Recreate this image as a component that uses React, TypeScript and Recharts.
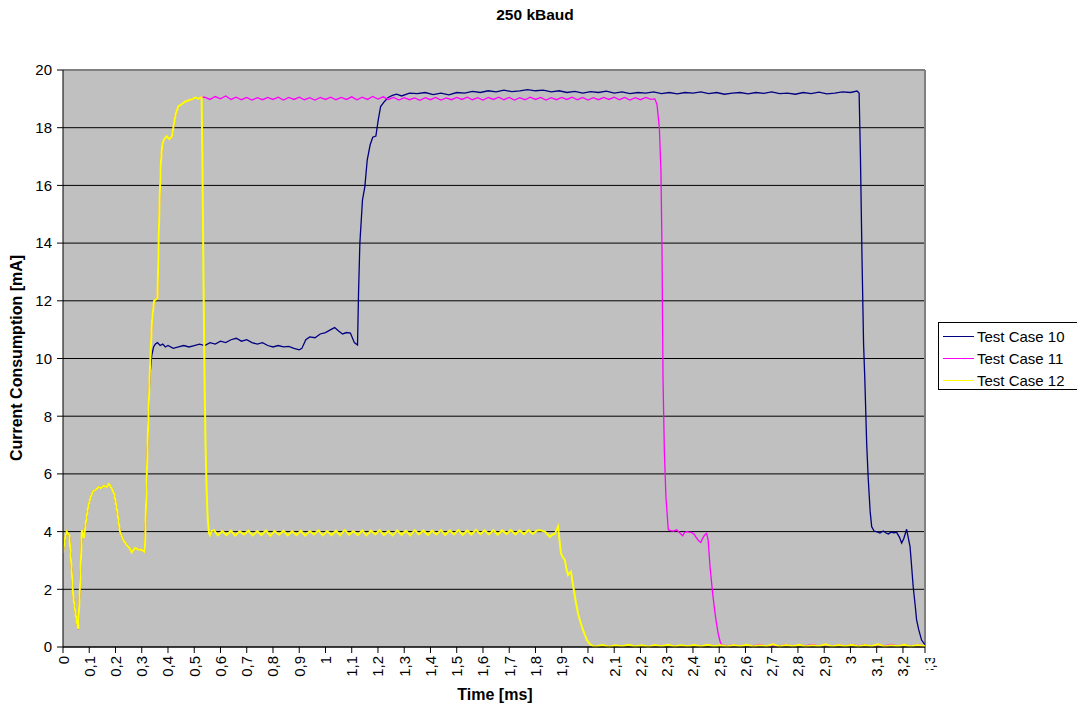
import React from 'react';
import { LineChart, Line, XAxis, YAxis, CartesianGrid, ReferenceLine } from 'recharts';

// Shared start of all three traces (time in ms, current in mA)
const startPoints: [number, number][] = [
  [0, 3.26], [0.008, 3.8], [0.014, 4.0], [0.024, 3.88], [0.032, 2.8], [0.039, 1.74], [0.046, 1.28],
  [0.052, 0.9], [0.058, 0.62], [0.062, 1.5], [0.066, 2.4], [0.072, 4.05], [0.08, 3.78], [0.088, 4.4],
  [0.096, 4.86], [0.105, 5.2], [0.115, 5.4], [0.125, 5.45], [0.135, 5.55], [0.145, 5.5], [0.155, 5.6],
  [0.165, 5.55], [0.175, 5.65], [0.185, 5.5], [0.195, 5.3], [0.205, 4.8], [0.217, 4.0], [0.23, 3.7],
  [0.243, 3.53], [0.255, 3.4], [0.262, 3.28], [0.274, 3.43], [0.287, 3.38], [0.3, 3.36], [0.309, 3.3],
  [0.312, 3.4], [0.318, 5.5], [0.324, 7.6],
];

// Shared steep rise of Test Case 11 and 12
const risePoints: [number, number][] = [
  [0.331, 9.6], [0.339, 11.3], [0.347, 12.0], [0.355, 12.05], [0.36, 12.1], [0.363, 13.5], [0.368, 15.5],
  [0.373, 16.8], [0.378, 17.4], [0.385, 17.6], [0.395, 17.7], [0.405, 17.6], [0.415, 17.7], [0.422, 18.1],
  [0.43, 18.5], [0.44, 18.75], [0.45, 18.8], [0.465, 18.9], [0.48, 18.95], [0.495, 19.0], [0.505, 19.05],
  [0.515, 19.0], [0.525, 19.05],
];

const tc10Points: [number, number][] = [
  [0.331, 9.4], [0.338, 10.1], [0.345, 10.4], [0.352, 10.5], [0.36, 10.55], [0.37, 10.45], [0.38, 10.5],
  [0.39, 10.4], [0.4, 10.45], [0.42, 10.35], [0.44, 10.4], [0.46, 10.45], [0.48, 10.4], [0.5, 10.45],
  [0.52, 10.5], [0.54, 10.45], [0.56, 10.55], [0.58, 10.5], [0.6, 10.6], [0.62, 10.55], [0.64, 10.65],
  [0.66, 10.7], [0.68, 10.6], [0.7, 10.65], [0.72, 10.55], [0.74, 10.5], [0.76, 10.55], [0.78, 10.45],
  [0.8, 10.4], [0.82, 10.45], [0.84, 10.4], [0.86, 10.42], [0.88, 10.35], [0.9, 10.3], [0.91, 10.35],
  [0.925, 10.65], [0.94, 10.75], [0.96, 10.72], [0.98, 10.85], [1.0, 10.9], [1.02, 11.0], [1.035, 11.07],
  [1.05, 10.95], [1.065, 10.85], [1.08, 10.9], [1.095, 10.88], [1.11, 10.55], [1.122, 10.47],
  [1.126, 12.3], [1.131, 14.0], [1.141, 15.5], [1.15, 15.96], [1.159, 16.88], [1.17, 17.4], [1.18, 17.67],
  [1.192, 17.71], [1.201, 18.27], [1.21, 18.73], [1.224, 18.9], [1.239, 19.05], [1.255, 19.12], [1.271, 19.16],
  [1.29, 19.1], [1.32, 19.2], [1.35, 19.18], [1.38, 19.22], [1.41, 19.15], [1.44, 19.2], [1.47, 19.14],
  [1.5, 19.22], [1.53, 19.2], [1.56, 19.26], [1.59, 19.22], [1.62, 19.28], [1.65, 19.24], [1.68, 19.3],
  [1.71, 19.25], [1.74, 19.28], [1.77, 19.32], [1.8, 19.28], [1.83, 19.3], [1.86, 19.24], [1.89, 19.28],
  [1.92, 19.22], [1.95, 19.26], [1.98, 19.2], [2.01, 19.25], [2.04, 19.22], [2.07, 19.27], [2.1, 19.2],
  [2.13, 19.24], [2.16, 19.18], [2.19, 19.22], [2.22, 19.2], [2.25, 19.24], [2.28, 19.18], [2.31, 19.22],
  [2.34, 19.17], [2.37, 19.22], [2.4, 19.2], [2.43, 19.24], [2.46, 19.18], [2.49, 19.22], [2.52, 19.16],
  [2.55, 19.2], [2.58, 19.22], [2.61, 19.17], [2.64, 19.22], [2.67, 19.19], [2.7, 19.24], [2.73, 19.18],
  [2.76, 19.2], [2.79, 19.16], [2.82, 19.22], [2.85, 19.18], [2.88, 19.23], [2.91, 19.17], [2.94, 19.2],
  [2.97, 19.24], [3.0, 19.22], [3.025, 19.27], [3.033, 19.2], [3.038, 17.0], [3.044, 13.5], [3.05, 10.5],
  [3.055, 9.2], [3.062, 7.0], [3.068, 5.8], [3.075, 4.7], [3.081, 4.17], [3.09, 4.02], [3.104, 3.98],
  [3.112, 3.95], [3.125, 4.02], [3.134, 3.96], [3.144, 3.92], [3.155, 3.98], [3.165, 3.96], [3.176, 3.97],
  [3.187, 3.8], [3.195, 3.6], [3.203, 3.75], [3.214, 4.08], [3.22, 3.8], [3.227, 3.48], [3.233, 2.8],
  [3.239, 2.09], [3.246, 1.5], [3.252, 0.94], [3.26, 0.6], [3.271, 0.24], [3.284, 0.07],
];

const tc11Points: [number, number][] = [
  [0.53, 19.05], [0.54, 19.06], [0.56, 18.98], [0.58, 19.08], [0.6, 19.0], [0.62, 19.1], [0.64, 18.98],
  [0.66, 19.06], [0.68, 18.97], [0.7, 19.05], [0.72, 18.96], [0.74, 19.04], [0.76, 18.97], [0.78, 19.05],
  [0.8, 18.98], [0.82, 19.06], [0.84, 18.96], [0.86, 19.05], [0.88, 18.98], [0.9, 19.06], [0.92, 18.97],
  [0.94, 19.04], [0.96, 18.96], [0.98, 19.05], [1.0, 18.98], [1.02, 19.06], [1.04, 18.97], [1.06, 19.05],
  [1.08, 18.98], [1.1, 19.07], [1.12, 18.97], [1.14, 19.06], [1.16, 18.98], [1.18, 19.08], [1.2, 18.99],
  [1.22, 19.07], [1.24, 18.98], [1.26, 19.05], [1.28, 18.96], [1.3, 19.04], [1.32, 18.97], [1.34, 19.03],
  [1.36, 18.95], [1.38, 19.04], [1.4, 18.97], [1.42, 19.05], [1.44, 18.96], [1.46, 19.03], [1.48, 18.97],
  [1.5, 19.05], [1.52, 18.98], [1.54, 19.06], [1.56, 18.97], [1.58, 19.04], [1.6, 18.96], [1.62, 19.05],
  [1.64, 18.98], [1.66, 19.06], [1.68, 18.97], [1.7, 19.05], [1.72, 18.96], [1.74, 19.04], [1.76, 18.97],
  [1.78, 19.06], [1.8, 18.98], [1.82, 19.05], [1.84, 18.96], [1.86, 19.04], [1.88, 18.97], [1.9, 19.05],
  [1.92, 18.98], [1.94, 19.06], [1.96, 18.97], [1.98, 19.05], [2.0, 18.96], [2.02, 19.04], [2.04, 18.97],
  [2.06, 19.05], [2.08, 18.98], [2.1, 19.06], [2.12, 18.97], [2.14, 19.05], [2.16, 18.96], [2.18, 19.04],
  [2.2, 18.97], [2.22, 19.05], [2.24, 18.98], [2.255, 19.0], [2.263, 18.8], [2.272, 18.0], [2.278, 16.5],
  [2.282, 13.8], [2.286, 9.25], [2.291, 6.8], [2.297, 5.2], [2.306, 4.06], [2.315, 4.03], [2.325, 4.02],
  [2.338, 4.06], [2.35, 3.95], [2.361, 3.86], [2.368, 3.97], [2.376, 4.0], [2.385, 3.98], [2.395, 3.97],
  [2.405, 3.9], [2.414, 3.77], [2.422, 3.68], [2.43, 3.62], [2.436, 3.75], [2.444, 3.88], [2.452, 3.94],
  [2.458, 3.7], [2.465, 2.78], [2.475, 1.86], [2.484, 1.17], [2.49, 0.8], [2.496, 0.47], [2.503, 0.2],
  [2.509, 0.07], [2.53, 0.03], [2.555, 0.08], [2.58, 0.02], [2.605, 0.07], [2.63, 0.03], [2.655, 0.09],
  [2.68, 0.02], [2.705, 0.06], [2.73, 0.03], [2.755, 0.08], [2.78, 0.02], [2.805, 0.07], [2.83, 0.04],
  [2.855, 0.09], [2.88, 0.03], [2.905, 0.08], [2.93, 0.02], [2.955, 0.07], [2.98, 0.04], [3.005, 0.09],
  [3.03, 0.03], [3.055, 0.08], [3.08, 0.02], [3.105, 0.07], [3.13, 0.04], [3.155, 0.09], [3.18, 0.03],
  [3.205, 0.08], [3.23, 0.02], [3.255, 0.07], [3.284, 0.04],
];

const tc12Points: [number, number][] = [
  [0.528, 19.05], [0.531, 17.0], [0.535, 13.0], [0.539, 9.5], [0.543, 7.0], [0.547, 5.5], [0.551, 4.5],
  [0.556, 3.95], [0.56, 3.88], [0.566, 4.02], [0.575, 4.05], [0.59, 3.87], [0.607, 4.02], [0.623, 3.88],
  [0.64, 4.03], [0.656, 3.86], [0.673, 4.01], [0.69, 3.9], [0.706, 4.03], [0.723, 3.87], [0.74, 4.02],
  [0.756, 3.88], [0.773, 4.04], [0.79, 3.86], [0.806, 4.02], [0.823, 3.89], [0.84, 4.03], [0.856, 3.87],
  [0.873, 4.01], [0.89, 3.88], [0.906, 4.03], [0.923, 3.86], [0.94, 4.02], [0.956, 3.9], [0.973, 4.04],
  [0.99, 3.87], [1.006, 4.02], [1.023, 3.88], [1.04, 4.03], [1.056, 3.87], [1.073, 4.05], [1.09, 3.89],
  [1.106, 4.02], [1.123, 3.88], [1.14, 4.04], [1.156, 3.87], [1.173, 4.03], [1.19, 3.9], [1.206, 4.05],
  [1.223, 3.88], [1.24, 4.02], [1.256, 3.87], [1.273, 4.04], [1.29, 3.89], [1.306, 4.03], [1.323, 3.87],
  [1.34, 4.05], [1.356, 3.9], [1.373, 4.04], [1.39, 3.88], [1.406, 4.03], [1.423, 3.9], [1.44, 4.05],
  [1.456, 3.88], [1.473, 4.04], [1.49, 3.9], [1.506, 4.05], [1.523, 3.89], [1.54, 4.04], [1.556, 3.9],
  [1.573, 4.06], [1.59, 3.91], [1.606, 4.04], [1.623, 3.9], [1.64, 4.05], [1.656, 3.89], [1.673, 4.04],
  [1.69, 3.92], [1.706, 4.05], [1.723, 3.9], [1.74, 4.04], [1.756, 3.91], [1.773, 4.05], [1.79, 3.92],
  [1.806, 4.04], [1.817, 4.05], [1.836, 4.0], [1.855, 3.82], [1.865, 3.9], [1.874, 3.92], [1.886, 4.17],
  [1.897, 3.25], [1.905, 3.1], [1.912, 3.02], [1.918, 2.7], [1.924, 2.5], [1.935, 2.61], [1.944, 2.09],
  [1.953, 1.6], [1.962, 1.17], [1.97, 0.9], [1.977, 0.7], [1.987, 0.45], [1.996, 0.24], [2.007, 0.1],
  [2.019, 0.03], [2.03, 0.02], [2.055, 0.07], [2.08, 0.01], [2.105, 0.06], [2.13, 0.03], [2.155, 0.08],
  [2.18, 0.02], [2.205, 0.06], [2.23, 0.01], [2.255, 0.07], [2.28, 0.03], [2.305, 0.08], [2.33, 0.02],
  [2.355, 0.06], [2.38, 0.03], [2.405, 0.07], [2.43, 0.02], [2.455, 0.08], [2.48, 0.03], [2.505, 0.06],
  [2.53, 0.02], [2.555, 0.07], [2.58, 0.03], [2.605, 0.08], [2.63, 0.02], [2.655, 0.06], [2.68, 0.03],
  [2.705, 0.09], [2.73, 0.02], [2.755, 0.07], [2.78, 0.03], [2.805, 0.08], [2.83, 0.02], [2.855, 0.06],
  [2.88, 0.03], [2.905, 0.09], [2.93, 0.02], [2.955, 0.07], [2.98, 0.03], [3.005, 0.08], [3.03, 0.02],
  [3.055, 0.07], [3.08, 0.03], [3.105, 0.09], [3.13, 0.02], [3.155, 0.06], [3.18, 0.03], [3.205, 0.08],
  [3.23, 0.02], [3.255, 0.07], [3.284, 0.03],
];

const X_MAX = 3.284;
const xTickValues = [0, 0.1, 0.2, 0.3, 0.4, 0.5, 0.6, 0.7, 0.8, 0.9, 1, 1.1, 1.2, 1.3, 1.4, 1.5, 1.6, 1.7,
  1.8, 1.9, 2, 2.1, 2.2, 2.3, 2.4, 2.5, 2.6, 2.7, 2.8, 2.9, 3, 3.1, 3.2, X_MAX];
const xTickLabels = ['0', '0,1', '0,2', '0,3', '0,4', '0,5', '0,6', '0,7', '0,8', '0,9', '1', '1,1', '1,2',
  '1,3', '1,4', '1,5', '1,6', '1,7', '1,8', '1,9', '2', '2,1', '2,2', '2,3', '2,4', '2,5', '2,6', '2,7',
  '2,8', '2,9', '3', '3,1', '3,2', '3,3'];
const yTicks = [0, 2, 4, 6, 8, 10, 12, 14, 16, 18, 20];

const seriesNames = ['Test Case 10', 'Test Case 11', 'Test Case 12'];
const seriesColors = ['#000080', '#FF00FF', '#FFFF00'];

const toRows = (pts: [number, number][]) => pts.map(([t, v]) => ({ t, v }));
const tc10Data = toRows([...startPoints, ...tc10Points]);
const tc11Data = toRows([...startPoints, ...risePoints, ...tc11Points]);
const tc12Data = toRows([...startPoints, ...risePoints, ...tc12Points]);
const seriesData = [tc10Data, tc11Data, tc12Data];

const FONT = '"Liberation Sans", Arial, sans-serif';

const XTick = (props: any) => {
  const { x, y, payload } = props;
  const idx = xTickValues.findIndex((v) => Math.abs(v - payload.value) < 1e-6);
  const label = idx >= 0 ? xTickLabels[idx] : '';
  const isLast = idx === xTickValues.length - 1;
  // the last label (3,3) sits slightly past the plot edge and is clipped there
  const lx = isLast ? x + 4 : x;
  return (
    <g>
      {isLast && (
        <defs>
          <clipPath id="lastTickClip">
            <rect x={x - 10} y={y - 5} width={12} height={60} />
          </clipPath>
        </defs>
      )}
      <text
        x={lx}
        y={y}
        transform={`rotate(-90 ${lx} ${y})`}
        textAnchor="end"
        dominantBaseline="central"
        fontSize={15}
        fontFamily={FONT}
        fill="#000"
        clipPath={isLast ? 'url(#lastTickClip)' : undefined}
      >
        {label}
      </text>
    </g>
  );
};

export default function App() {
  const widths = [1.3, 1.3, 2];
  return (
    <div style={{ position: 'absolute', left: 0, top: 0, width: 1077, height: 709, overflow: 'hidden', background: '#fff', fontFamily: FONT }}>
      <LineChart width={1077} height={709} margin={{ top: 70, right: 152, bottom: 2, left: 3 }}>
        <CartesianGrid vertical={false} stroke="#000" strokeWidth={1} fill="#C0C0C0" fillOpacity={1} />
        <XAxis
          type="number"
          dataKey="t"
          domain={[0, X_MAX]}
          ticks={xTickValues}
          allowDataOverflow
          height={60}
          stroke="#000"
          tickSize={6}
          tickMargin={3}
          tick={<XTick />}
          interval={0}
        />
        <YAxis
          type="number"
          dataKey="v"
          domain={[0, 20]}
          ticks={yTicks}
          width={60}
          stroke="#000"
          tickSize={6}
          tickMargin={5}
          tick={{ fontSize: 15, fill: '#000', fontFamily: FONT }}
          interval={0}
        />
        <ReferenceLine y={20} stroke="#808080" strokeWidth={2} />
        <ReferenceLine x={X_MAX} stroke="#808080" strokeWidth={2} />
        {seriesData.map((d, i) => (
          <Line
            key={seriesNames[i]}
            data={d}
            dataKey="v"
            name={seriesNames[i]}
            type="linear"
            stroke={seriesColors[i]}
            strokeWidth={widths[i]}
            dot={false}
            activeDot={false}
            isAnimationActive={false}
          />
        ))}
      </LineChart>

      <div style={{ position: 'absolute', left: 385, top: 6, width: 300, textAlign: 'center', fontWeight: 'bold', fontSize: 15.5, lineHeight: '18px' }}>
        250 kBaud
      </div>
      <div style={{ position: 'absolute', left: 17 - 150, top: 358 - 9, width: 300, height: 18, textAlign: 'center', fontWeight: 'bold', fontSize: 16, lineHeight: '18px', transform: 'rotate(-90deg)' }}>
        Current Consumption [mA]
      </div>
      <div style={{ position: 'absolute', left: 395, top: 686, width: 200, textAlign: 'center', fontWeight: 'bold', fontSize: 16, lineHeight: '18px' }}>
        Time [ms]
      </div>

      <div style={{ position: 'absolute', left: 938, top: 322, width: 150, height: 66, border: '1px solid #000', background: '#fff' }}>
        {seriesNames.map((n, i) => (
          <div key={n} style={{ position: 'absolute', left: 0, top: 3 + i * 22, height: 22, width: 150 }}>
            <div style={{ position: 'absolute', left: 4, top: 10, width: 31, height: 0, borderTop: `1.5px solid ${seriesColors[i]}` }} />
            <div style={{ position: 'absolute', left: 38, top: 2, fontSize: 15, lineHeight: '18px', whiteSpace: 'nowrap' }}>{n}</div>
          </div>
        ))}
      </div>
    </div>
  );
}
